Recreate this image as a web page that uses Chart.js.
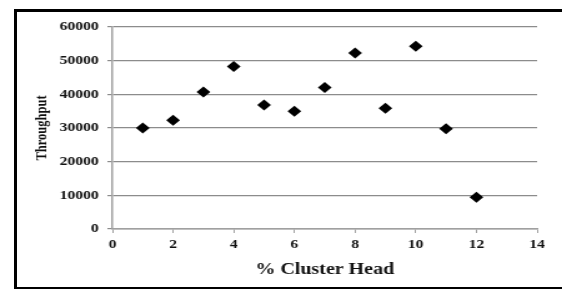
<!DOCTYPE html>
<html>
<head>
<meta charset="utf-8">
<script src="https://cdn.jsdelivr.net/npm/chart.js@4/dist/chart.umd.min.js"></script>
<style>
  body { margin: 0; background: #fff; overflow: hidden; }
  #frame {
    position: absolute; left: 14px; top: 9px; width: 560px; height: 275px;
    border-left: 3px solid #000; border-top: 3px solid #000; border-bottom: 2px solid #000;
  }
  /* the original picture is stretched sideways, so the chart is too */
  #wrap {
    position: absolute; left: 0; top: 0; width: 450px; height: 289px;
    transform: scaleX(1.249); transform-origin: 0 0;
  }
</style>
</head>
<body>
<div id="frame"></div>
<div id="wrap"><canvas id="graph"></canvas></div>
<script>
// % cluster head vs throughput
const clusterHead = [1, 2, 3, 4, 5, 6, 7, 8, 9, 10, 11, 12];
const throughput = [30000, 32300, 40700, 48300, 36800, 35000, 42000, 52300, 35900, 54300, 29800, 9400];
const xTicks = [0, 2, 4, 6, 8, 10, 12, 14];
const yTicks = [0, 10000, 20000, 30000, 40000, 50000, 60000];

const serif = "'Liberation Serif', 'Times New Roman', serif";

const graph = document.getElementById('graph').getContext('2d');
let myChart = new Chart(graph, {
    type: 'scatter',
    data: {
        datasets: [{
            data: clusterHead.map((x, i) => ({ x: x, y: throughput[i] })),
            pointStyle: 'rectRot',
            pointRadius: 5.5,
            backgroundColor: '#000',
            borderColor: '#000',
            borderWidth: 0,
        }],
    },
    options: {
        responsive: true,
        maintainAspectRatio: false,
        animation: false,
        layout: {
            padding: { left: 0, right: 20, top: 27, bottom: 10 }
        },
        plugins: {
            legend: { display: false },
            tooltip: { enabled: false }
        },
        scales: {
            x: {
                type: 'linear',
                min: xTicks[0],
                max: xTicks[xTicks.length - 1],
                afterBuildTicks: axis => { axis.ticks = xTicks.map(v => ({ value: v })); },
                afterFit: axis => { axis.height = 50; },
                border: { color: '#a0a0a0', width: 1.5 },
                grid: { drawOnChartArea: false, drawTicks: true, tickLength: 4, color: '#a0a0a0' },
                ticks: {
                    color: '#111',
                    padding: 4,
                    maxRotation: 0,
                    callback: v => String(v),
                    font: { family: serif, size: 12.5, weight: 'bold' }
                },
                title: {
                    display: true,
                    text: '% Cluster Head',
                    color: '#111',
                    padding: { top: 13, bottom: 0 },
                    font: { family: serif, size: 16, weight: 'bold' }
                }
            },
            y: {
                min: yTicks[0],
                max: yTicks[yTicks.length - 1],
                afterBuildTicks: axis => { axis.ticks = yTicks.map(v => ({ value: v })); },
                afterFit: axis => { axis.width = 90; },
                border: { color: '#a0a0a0', width: 1.5 },
                grid: { color: '#8c8c8c', tickLength: 4, lineWidth: 1.2 },
                ticks: {
                    color: '#111',
                    padding: 7,
                    callback: v => String(v),
                    font: { family: serif, size: 12.5, weight: 'bold' }
                },
                title: {
                    display: true,
                    text: 'Throughput',
                    color: '#111',
                    padding: { top: 26, bottom: 0 },
                    font: { family: serif, size: 12.5, weight: 'bold' }
                }
            }
        }
    }
});
</script>
</body>
</html>
